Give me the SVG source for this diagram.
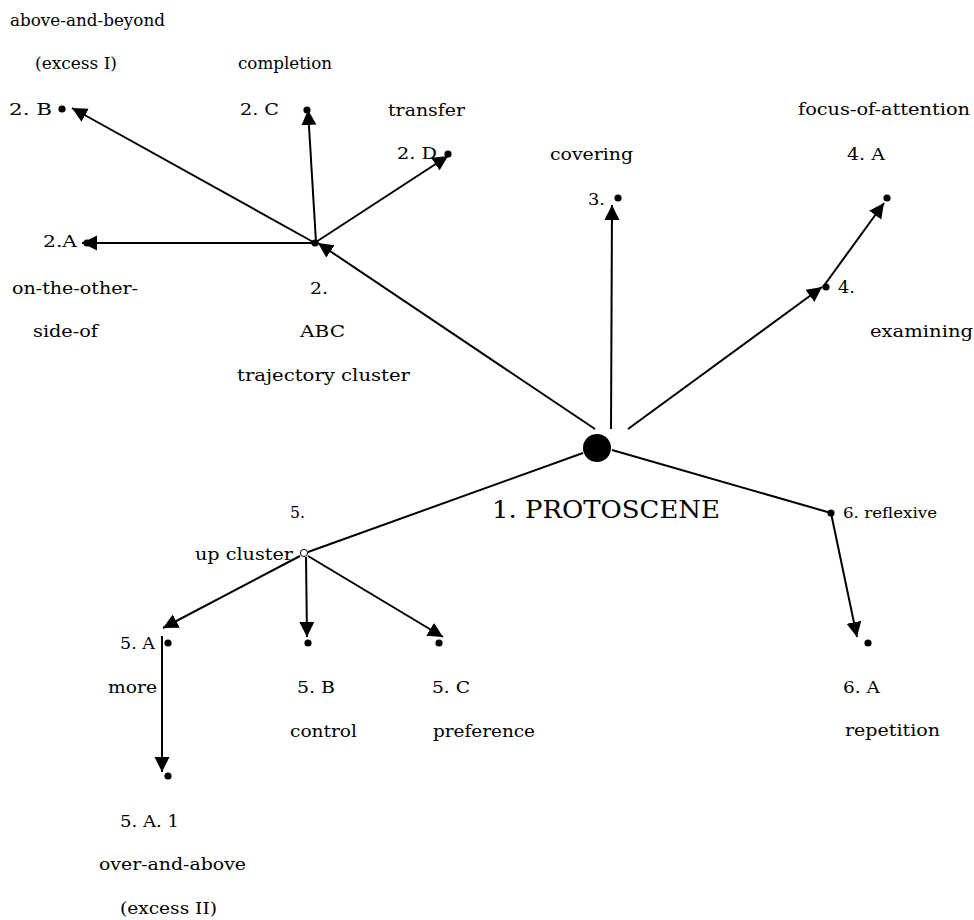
<svg xmlns="http://www.w3.org/2000/svg" width="974" height="920" viewBox="0 0 974 920">
<style>
  text { font-family: "DejaVu Serif", "Liberation Serif", serif; font-size: 16px; fill: #000; }
  .big { font-size: 25px; }
  .small { font-size: 14px; }
  .dot { fill: #000; }
  .hollow { fill: #fff; stroke: #000; stroke-width: 1; }
  .c { stroke: #000; stroke-width: 2; fill: none; }
  .a { marker-end: url(#arr); }
</style>
<defs>
  <marker id="arr" markerUnits="userSpaceOnUse" markerWidth="16" markerHeight="16" refX="15" refY="7.5" orient="auto">
    <path d="M0,0 L15,7.5 L0,15 z" fill="#000"/>
  </marker>
</defs>
<rect width="974" height="920" fill="#fff"/>

<g id="connectors">
  <line class="c a" x1="595" y1="429" x2="318" y2="243"/>
  <line class="c a" x1="315" y1="243" x2="82" y2="243"/>
  <line class="c a" x1="315" y1="243" x2="72" y2="108"/>
  <line class="c a" x1="316" y1="242" x2="308" y2="110"/>
  <line class="c a" x1="316" y1="242" x2="448" y2="156"/>
  <line class="c a" x1="611" y1="429" x2="612" y2="205"/>
  <line class="c a" x1="628" y1="429" x2="822" y2="287"/>
  <line class="c a" x1="823" y1="287" x2="884" y2="203"/>
  <line class="c" x1="612" y1="450" x2="831" y2="513"/>
  <line class="c a" x1="831" y1="513" x2="857" y2="637"/>
  <line class="c" x1="583" y1="453" x2="308" y2="552"/>
  <line class="c a" x1="300" y1="556" x2="163" y2="628"/>
  <line class="c a" x1="306" y1="557" x2="307" y2="637"/>
  <line class="c a" x1="308" y1="556" x2="443" y2="637"/>
  <line class="c a" x1="162" y1="636" x2="162" y2="772"/>
</g>

<g id="n1">
  <circle class="dot" cx="597" cy="448" r="14"/>
  <text class="big" x="492" y="518" textLength="228" lengthAdjust="spacingAndGlyphs">1. PROTOSCENE</text>
</g>
<g id="n2">
  <circle class="dot" cx="315" cy="243" r="3.6"/>
  <text x="310" y="294" textLength="18" lengthAdjust="spacingAndGlyphs">2.</text>
  <text x="300" y="337" textLength="45" lengthAdjust="spacingAndGlyphs">ABC</text>
  <text x="237" y="381" textLength="173" lengthAdjust="spacingAndGlyphs">trajectory cluster</text>
</g>
<g id="n2A">
  <circle class="dot" cx="87" cy="243" r="3.6"/>
  <text x="43" y="247" textLength="34" lengthAdjust="spacingAndGlyphs">2.A</text>
  <text x="12" y="294" textLength="126" lengthAdjust="spacingAndGlyphs">on-the-other-</text>
  <text x="33" y="337" textLength="65" lengthAdjust="spacingAndGlyphs">side-of</text>
</g>
<g id="n2B">
  <circle class="dot" cx="62" cy="109" r="3.6"/>
  <text x="9" y="115" textLength="43" lengthAdjust="spacingAndGlyphs">2. B</text>
  <text x="10" y="26" textLength="155" lengthAdjust="spacingAndGlyphs">above-and-beyond</text>
  <text x="35" y="69" textLength="82" lengthAdjust="spacingAndGlyphs">(excess I)</text>
</g>
<g id="n2C">
  <circle class="dot" cx="307" cy="110" r="3.6"/>
  <text x="240" y="115" textLength="39" lengthAdjust="spacingAndGlyphs">2. C</text>
  <text x="238" y="69" textLength="94" lengthAdjust="spacingAndGlyphs">completion</text>
</g>
<g id="n2D">
  <circle class="dot" cx="448" cy="154" r="3.6"/>
  <text x="397" y="159" textLength="40" lengthAdjust="spacingAndGlyphs">2. D</text>
  <text x="388" y="116" textLength="77" lengthAdjust="spacingAndGlyphs">transfer</text>
</g>
<g id="n3">
  <circle class="dot" cx="618" cy="198" r="3.6"/>
  <text x="588" y="205" textLength="17" lengthAdjust="spacingAndGlyphs">3.</text>
  <text x="550" y="160" textLength="83" lengthAdjust="spacingAndGlyphs">covering</text>
</g>
<g id="n4">
  <circle class="dot" cx="826" cy="287" r="3.6"/>
  <text x="838" y="293" textLength="17" lengthAdjust="spacingAndGlyphs">4.</text>
  <text x="870" y="337" textLength="103" lengthAdjust="spacingAndGlyphs">examining</text>
</g>
<g id="n4A">
  <circle class="dot" cx="887" cy="198" r="3.6"/>
  <text x="847" y="160" textLength="38" lengthAdjust="spacingAndGlyphs">4. A</text>
  <text x="798" y="115" textLength="172" lengthAdjust="spacingAndGlyphs">focus-of-attention</text>
</g>
<g id="n5">
  <circle class="hollow" cx="304" cy="553" r="3.6"/>
  <text x="290" y="518" textLength="15" lengthAdjust="spacingAndGlyphs">5.</text>
  <text x="195" y="560" textLength="98" lengthAdjust="spacingAndGlyphs">up cluster</text>
</g>
<g id="n5A">
  <circle class="dot" cx="168" cy="643" r="3.6"/>
  <text x="120" y="649" textLength="35" lengthAdjust="spacingAndGlyphs">5. A</text>
  <text x="108" y="693" textLength="49" lengthAdjust="spacingAndGlyphs">more</text>
</g>
<g id="n5A1">
  <circle class="dot" cx="168" cy="776" r="3.6"/>
  <text x="120" y="827" textLength="59" lengthAdjust="spacingAndGlyphs">5. A. 1</text>
  <text x="99" y="870" textLength="147" lengthAdjust="spacingAndGlyphs">over-and-above</text>
  <text x="120" y="914" textLength="97" lengthAdjust="spacingAndGlyphs">(excess II)</text>
</g>
<g id="n5B">
  <circle class="dot" cx="308" cy="643" r="3.6"/>
  <text x="297" y="693" textLength="38" lengthAdjust="spacingAndGlyphs">5. B</text>
  <text x="290" y="737" textLength="67" lengthAdjust="spacingAndGlyphs">control</text>
</g>
<g id="n5C">
  <circle class="dot" cx="439" cy="643" r="3.6"/>
  <text x="432" y="693" textLength="38" lengthAdjust="spacingAndGlyphs">5. C</text>
  <text x="433" y="737" textLength="102" lengthAdjust="spacingAndGlyphs">preference</text>
</g>
<g id="n6">
  <circle class="dot" cx="831" cy="513" r="3.6"/>
  <text class="small" x="843" y="518" textLength="94" lengthAdjust="spacingAndGlyphs">6. reflexive</text>
</g>
<g id="n6A">
  <circle class="dot" cx="868" cy="643" r="3.6"/>
  <text x="843" y="693" textLength="37" lengthAdjust="spacingAndGlyphs">6. A</text>
  <text x="845" y="736" textLength="95" lengthAdjust="spacingAndGlyphs">repetition</text>
</g>
</svg>
